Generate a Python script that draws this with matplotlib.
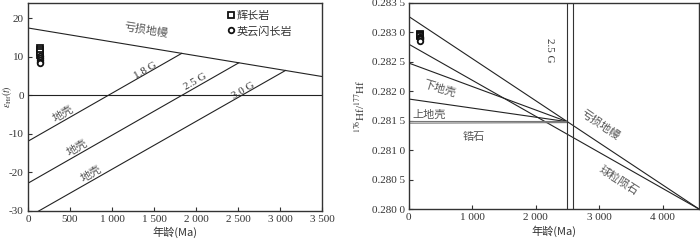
import matplotlib
matplotlib.use("Agg")
import matplotlib.pyplot as plt
import numpy as np
from matplotlib.ticker import FixedLocator

plt.rcParams['font.family'] = ['Liberation Serif', 'Noto Sans CJK SC', 'DejaVu Sans']
plt.rcParams['mathtext.fontset'] = 'stix'

# ---------------- Left panel data (epsilon Hf vs age) ----------------
dm_age = [0, 3500]
dm_eps = [17.5, 4.9]
crust_labels = ['1.8 G', '2.5 G', '3.0 G']
crust_model_age = [1830, 2510, 3065]
crust_eps0 = [-11.9, -22.8, -31.6]

gab_age_l = [143, 143, 143, 143]
gab_eps = [12.3, 11.8, 11.2, 10.6]
ton_age_l = [143, 143, 143, 143, 143]
ton_eps = [10.2, 9.6, 9.1, 8.7, 8.4]

left_xticks = [0, 500, 1000, 1500, 2000, 2500, 3000, 3500]
left_xticklabels = ['0', '500', '1 000', '1 500', '2 000', '2 500', '3 000', '3 500']
left_yticks = [-30, -20, -10, 0, 10, 20]
left_yticklabels = ['-30', '-20', '-10', '0', '10', '20']

# ---------------- Right panel data (176Hf/177Hf vs age) ----------------
dm_r_age = [0, 4580]
dm_r_val = [0.28327, 0.28000]
chur_age = [0, 4580]
chur_val = [0.28280, 0.28000]
lc_age = [0, 2500]
lc_val = [0.28248, 0.281485]
uc_age = [0, 2500]
uc_val = [0.28187, 0.281485]
zr1_age = [0, 2500]
zr1_val = [0.28149, 0.28149]
zr2_age = [0, 2500]
zr2_val = [0.28146, 0.28147]
vline_ages = [2500, 2590]

gab_age_r = [175, 175, 175]
gab_hf = [0.28298, 0.28296, 0.28294]
ton_age_r = [175, 175, 175, 175]
ton_hf = [0.28292, 0.28290, 0.28288, 0.28286]

right_xticks = [0, 1000, 2000, 3000, 4000]
right_xticklabels = ['0', '1 000', '2 000', '3 000', '4 000']
right_yticks = [0.2800, 0.2805, 0.2810, 0.2815, 0.2820, 0.2825, 0.2830, 0.2835]
right_yticklabels = ['0.280 0', '0.280 5', '0.281 0', '0.281 5', '0.282 0', '0.282 5', '0.283 0', '0.283 5']

CJK = ['Noto Sans CJK SC', 'DejaVu Sans']
lab_col = '#555555'
tick_col = '#333333'
lw = 0.8

fig = plt.figure(figsize=(7.0, 2.45), dpi=100)
axL = fig.add_axes([0.040, 0.139, 0.420, 0.849])
axR = fig.add_axes([0.584, 0.146, 0.415, 0.842])

for ax in (axL, axR):
    for s in ax.spines.values():
        s.set_linewidth(1.0)
        s.set_color('#333333')
    ax.tick_params(direction='in', length=3, width=0.8, labelsize=8, colors=tick_col,
                   top=False, right=False, pad=3)

# ---- Left panel ----
axL.plot(dm_age, dm_eps, color='#222222', lw=lw)
axL.axhline(0, color='#222222', lw=lw)
slope_dm = (dm_eps[1] - dm_eps[0]) / (dm_age[1] - dm_age[0])
for t, e0 in zip(crust_model_age, crust_eps0):
    e_t = dm_eps[0] + slope_dm * t
    axL.plot([0, t], [e0, e_t], color='#222222', lw=lw)

axL.plot(gab_age_l, gab_eps, ls='none', marker='s', ms=4, mfc='white', mec='#111111', mew=1.3, label='辉长岩')
axL.plot(ton_age_l, ton_eps, ls='none', marker='o', ms=4, mfc='white', mec='#111111', mew=1.3, label='英云闪长岩')

axL.set_xlim(0, 3500)
axL.set_ylim(-30, 24)
axL.xaxis.set_major_locator(FixedLocator(left_xticks))
axL.set_xticklabels(left_xticklabels)
axL.yaxis.set_major_locator(FixedLocator(left_yticks))
axL.set_yticklabels(left_yticklabels)
axL.set_xlabel('年龄(Ma)', fontsize=8, family=CJK, color=tick_col, labelpad=2)
axL.set_ylabel(r'$\varepsilon_{\rm Hf}(t)$', fontsize=7, color=tick_col)
axL.yaxis.set_label_coords(-0.048, 0.55)

leg = axL.legend(loc='upper left', bbox_to_anchor=(0.655, 1.0), frameon=False,
                 handlelength=0.5, handletextpad=0.2, labelspacing=0.45, borderaxespad=0.3,
                 prop={'family': CJK, 'size': 8})
for t in leg.get_texts():
    t.set_color(tick_col)

axL.text(1405, 16.9, '亏损地幔', rotation=-9, ha='center', va='center', fontsize=8, family=CJK, color=lab_col)
for lbl, x, y in zip(crust_labels, [1393, 1988, 2560], [6.5, 3.6, 1.3]):
    axL.text(x, y, lbl, rotation=30, ha='center', va='center', fontsize=8, color=tick_col)
for x, y in zip([417, 583, 750], [-4.7, -13.5, -20.3]):
    axL.text(x, y, '地壳', rotation=30, ha='center', va='center', fontsize=8, family=CJK, color=lab_col)

# ---- Right panel ----
axR.plot(dm_r_age, dm_r_val, color='#222222', lw=lw)
axR.plot(chur_age, chur_val, color='#222222', lw=lw)
axR.plot(lc_age, lc_val, color='#222222', lw=lw)
axR.plot(uc_age, uc_val, color='#222222', lw=lw)
axR.plot(zr1_age, zr1_val, color='#777777', lw=lw)
axR.plot(zr2_age, zr2_val, color='#777777', lw=lw)
for v in vline_ages:
    axR.axvline(v, color='#333333', lw=lw)

axR.plot(gab_age_r, gab_hf, ls='none', marker='s', ms=4, mfc='white', mec='#111111', mew=1.3)
axR.plot(ton_age_r, ton_hf, ls='none', marker='o', ms=4, mfc='white', mec='#111111', mew=1.3)

axR.set_xlim(0, 4580)
axR.set_ylim(0.2800, 0.2835)
axR.xaxis.set_major_locator(FixedLocator(right_xticks))
axR.set_xticklabels(right_xticklabels)
axR.yaxis.set_major_locator(FixedLocator(right_yticks))
axR.set_yticklabels(right_yticklabels)
axR.set_xlabel('年龄(Ma)', fontsize=8, family=CJK, color=tick_col, labelpad=2)
axR.set_ylabel(r'$^{176}$Hf/$^{177}$Hf', fontsize=8, color=tick_col, labelpad=3)

axR.text(2213, 0.28269, '2.5 G', rotation=-90, ha='center', va='center', fontsize=8, color=tick_col)
axR.text(480, 0.28204, '下地壳', rotation=-17, ha='center', va='center', fontsize=8, family=CJK, color=lab_col)
axR.text(323, 0.28160, '上地壳', rotation=0, ha='center', va='center', fontsize=8, family=CJK, color=lab_col)
axR.text(1030, 0.28122, '锆石', rotation=0, ha='center', va='center', fontsize=8, family=CJK, color=lab_col)
axR.text(3020, 0.28143, '亏损地幔', rotation=-34, ha='center', va='center', fontsize=8, family=CJK, color=lab_col)
axR.text(3305, 0.28048, '球粒陨石', rotation=-33, ha='center', va='center', fontsize=8, family=CJK, color=lab_col)

fig.savefig('out.png', dpi=100)
